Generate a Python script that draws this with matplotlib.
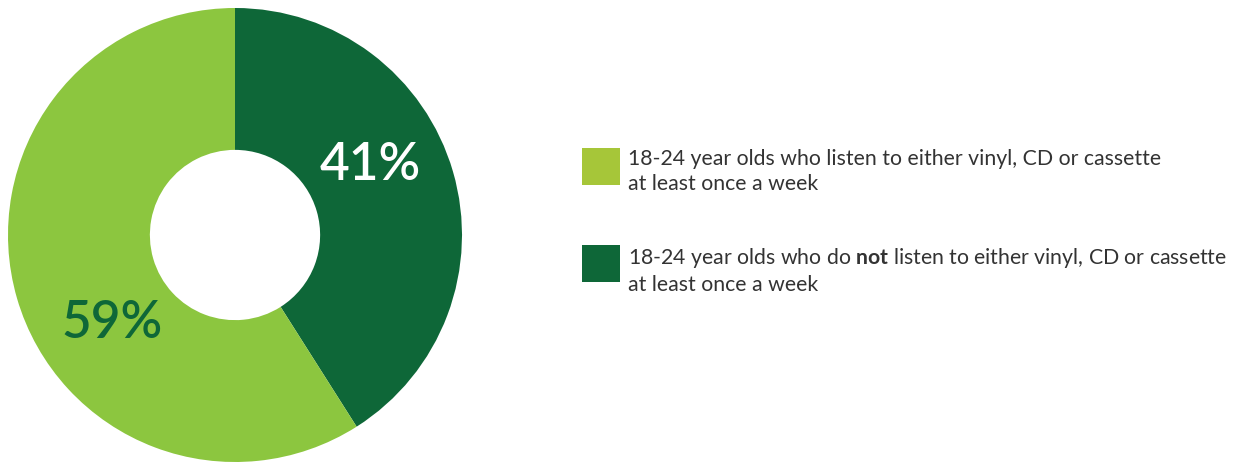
import matplotlib.pyplot as plt
from matplotlib.patches import Rectangle

plt.rcParams["font.family"] = ["Lato", "DejaVu Sans"]
plt.rcParams["mathtext.fontset"] = "custom"
plt.rcParams["mathtext.rm"] = "Lato"
plt.rcParams["mathtext.bf"] = "Lato:bold"

# share of 18-24 year olds, clockwise from 12 o'clock
labels = ["do not listen weekly", "listen weekly"]
shares = [41, 59]
wedge_colors = ["#0e6738", "#8cc63f"]
label_colors = ["white", "#0e6738"]
label_xy = [(0.595, 0.305), (-0.54, -0.39)]

legend_text = [
    "18-24 year olds who listen to either vinyl, CD or cassette\nat least once a week",
    "18-24 year olds who do $\\mathbf{not}$ listen to either vinyl, CD or cassette\nat least once a week",
]
legend_colors = ["#a6c639", "#0e6738"]

W, H = 1243, 462
fig = plt.figure(figsize=(W / 100, H / 100), dpi=100)

# donut
R = 227
cx, cy = 235, 235
ax = fig.add_axes([(cx - R) / W, (H - cy - R) / H, 2 * R / W, 2 * R / H])
ax.pie(shares, colors=wedge_colors, startangle=90, counterclock=False,
       radius=1, wedgeprops=dict(width=0.625, linewidth=0))
for val, (x, y), c in zip(shares, label_xy, label_colors):
    ax.text(x, y, f"{val}%", color=c, fontsize=37, fontweight="semibold",
            ha="center", va="center")
ax.set_xlim(-1, 1)
ax.set_ylim(-1, 1)
ax.set_aspect("equal")
ax.axis("off")

# legend drawn by hand to the right
box_tops = [148, 245]
for top, txt, c in zip(box_tops, legend_text, legend_colors):
    fig.patches.append(Rectangle((582 / W, (H - top - 37) / H), 38 / W, 37 / H,
                                 transform=fig.transFigure, color=c, lw=0))
    fig.text(628 / W, (H - top - 1) / H, txt, color="#333333", fontsize=15.3,
             ha="left", va="top", linespacing=1.3)

fig.savefig("out.png", dpi=100, facecolor="white")
